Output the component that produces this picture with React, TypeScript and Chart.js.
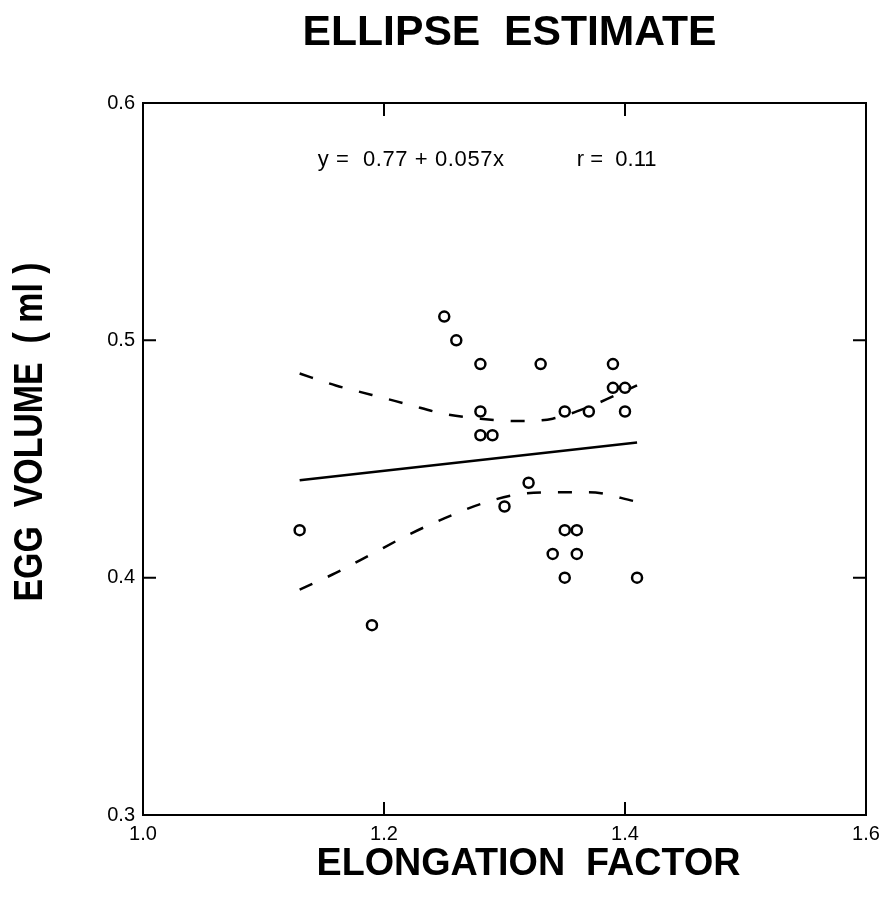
import { useEffect, useRef } from "react";
import { Chart, registerables } from "chart.js";

Chart.register(...registerables);

// Observed points
const elongation = [1.25, 1.26, 1.28, 1.33, 1.39, 1.39, 1.40, 1.28, 1.35, 1.37, 1.40, 1.28, 1.29, 1.32, 1.30, 1.13, 1.35, 1.36, 1.34, 1.36, 1.35, 1.41, 1.19];
const eggVolume = [0.51, 0.50, 0.49, 0.49, 0.49, 0.48, 0.48, 0.47, 0.47, 0.47, 0.47, 0.46, 0.46, 0.44, 0.43, 0.42, 0.42, 0.42, 0.41, 0.41, 0.40, 0.40, 0.38];

// Regression line
const fitX = [1.13, 1.41];
const fitY = [0.441, 0.457];

// Confidence band
const bandX = [1.13, 1.16, 1.19, 1.22, 1.25, 1.28, 1.31, 1.34, 1.37, 1.41];
const upperBand = [0.486, 0.481, 0.477, 0.473, 0.469, 0.467, 0.466, 0.467, 0.472, 0.481];
const lowerBand = [0.395, 0.402, 0.410, 0.418, 0.425, 0.431, 0.435, 0.436, 0.436, 0.432];

const xTicks = [1.0, 1.2, 1.4, 1.6];
const yTicks = [0.3, 0.4, 0.5, 0.6];

const chartTitle = "ELLIPSE  ESTIMATE";
const xTitle = "ELONGATION  FACTOR";
const yTitle = "EGG  VOLUME  ( ml )";
const equationText = "y =  0.77 + 0.057x";
const rText = "r =  0.11";

const FONT = "'Liberation Sans', Arial, Helvetica, sans-serif";

function drawFitted(ctx: any, text: string, cx: number, cy: number, size: number, width: number, rotate: boolean) {
  ctx.save();
  ctx.font = `bold ${size}px ${FONT}`;
  const w = ctx.measureText(text).width;
  ctx.translate(cx, cy);
  if (rotate) ctx.rotate(-Math.PI / 2);
  ctx.scale(width / w, 1);
  ctx.textAlign = "center";
  ctx.textBaseline = "alphabetic";
  ctx.fillText(text, 0, size * 0.358);
  ctx.restore();
}

const framePlugin = {
  id: "frameAndText",
  afterDatasetsDraw(chart: any) {
    const { ctx, chartArea, scales } = chart;
    const { left, right, top, bottom } = chartArea;
    const x = scales.x;
    const y = scales.y;
    ctx.save();
    ctx.strokeStyle = "#000";
    ctx.lineWidth = 2;
    ctx.strokeRect(left, top, right - left, bottom - top);
    const tl = 13;
    ctx.beginPath();
    xTicks.slice(1, -1).forEach((v) => {
      const px = x.getPixelForValue(v);
      ctx.moveTo(px, bottom);
      ctx.lineTo(px, bottom - tl);
      ctx.moveTo(px, top);
      ctx.lineTo(px, top + tl);
    });
    yTicks.slice(1, -1).forEach((v) => {
      const py = y.getPixelForValue(v);
      ctx.moveTo(left, py);
      ctx.lineTo(left + tl, py);
      ctx.moveTo(right, py);
      ctx.lineTo(right - tl, py);
    });
    ctx.stroke();

    ctx.fillStyle = "#000";
    ctx.textBaseline = "middle";
    ctx.textAlign = "left";
    ctx.font = `22px ${FONT}`;
    (ctx as any).letterSpacing = "0.6px";
    ctx.fillText(equationText, x.getPixelForValue(1.145), y.getPixelForValue(0.576));
    (ctx as any).letterSpacing = "0px";
    ctx.fillText(rText, x.getPixelForValue(1.360), y.getPixelForValue(0.576));
    ctx.restore();

    ctx.save();
    ctx.fillStyle = "#000";
    const cxArea = (left + right) / 2;
    drawFitted(ctx, chartTitle, cxArea + 5, top - 73, 42, 414, false);
    drawFitted(ctx, xTitle, cxArea + 24, bottom + 46, 39, 424, false);
    drawFitted(ctx, yTitle, left - 116, (top + bottom) / 2 - 27, 41, 339, true);
    ctx.restore();
  },
};

export default function App() {
  const ref = useRef<HTMLCanvasElement | null>(null);

  useEffect(() => {
    if (!ref.current) return;
    const points = elongation.map((v, i) => ({ x: v, y: eggVolume[i] }));
    const fit = fitX.map((v, i) => ({ x: v, y: fitY[i] }));
    const upper = bandX.map((v, i) => ({ x: v, y: upperBand[i] }));
    const lower = bandX.map((v, i) => ({ x: v, y: lowerBand[i] }));

    const chart = new Chart(ref.current, {
      type: "scatter",
      data: {
        datasets: [
          {
            type: "line",
            data: fit,
            borderColor: "#000",
            borderWidth: 2.5,
            pointRadius: 0,
            fill: false,
          },
          {
            type: "line",
            data: upper,
            borderColor: "#000",
            borderWidth: 2.5,
            borderDash: [14, 17],
            pointRadius: 0,
            tension: 0.4,
            cubicInterpolationMode: "monotone",
            fill: false,
          },
          {
            type: "line",
            data: lower,
            borderColor: "#000",
            borderWidth: 2.5,
            borderDash: [14, 17],
            pointRadius: 0,
            tension: 0.4,
            cubicInterpolationMode: "monotone",
            fill: false,
          },
          {
            type: "scatter",
            data: points,
            pointStyle: "circle",
            pointRadius: 5,
            borderWidth: 2.5,
            borderColor: "#000",
            backgroundColor: "rgba(255,255,255,0)",
          },
        ],
      } as any,
      options: {
        animation: false,
        responsive: true,
        maintainAspectRatio: false,
        layout: { padding: { top: 103, right: 22, left: 0, bottom: 0 } },
        plugins: { legend: { display: false }, tooltip: { enabled: false } },
        scales: {
          x: {
            type: "linear",
            min: 1.0,
            max: 1.6,
            afterBuildTicks: (s: any) => {
              s.ticks = xTicks.map((v) => ({ value: v }));
            },
            afterFit: (s: any) => {
              s.height = 88;
            },
            grid: { display: false, drawTicks: false },
            border: { display: false },
            ticks: {
              color: "#000",
              font: { family: FONT, size: 20 },
              padding: 7,
              maxRotation: 0,
              autoSkip: false,
              callback: (v: any) => Number(v).toFixed(1),
            },
            title: { display: false },
          },
          y: {
            type: "linear",
            min: 0.3,
            max: 0.6,
            afterBuildTicks: (s: any) => {
              s.ticks = yTicks.map((v) => ({ value: v }));
            },
            afterFit: (s: any) => {
              s.width = 143;
            },
            grid: { display: false, drawTicks: false },
            border: { display: false },
            ticks: {
              color: "#000",
              font: { family: FONT, size: 20 },
              padding: 8,
              autoSkip: false,
              callback: (v: any) => Number(v).toFixed(1),
            },
            title: { display: false },
          },
        },
      },
      plugins: [framePlugin],
    });
    return () => chart.destroy();
  }, []);

  return (
    <div style={{ position: "absolute", left: 0, top: 0, width: 888, height: 903 }}>
      <canvas ref={ref} />
    </div>
  );
}
